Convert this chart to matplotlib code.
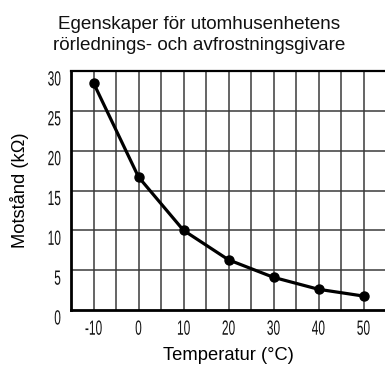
import matplotlib
matplotlib.use("Agg")
import matplotlib.pyplot as plt
from matplotlib.patheffects import AbstractPathEffect
from matplotlib.transforms import Affine2D, ScaledTranslation

plt.rcParams["axes.unicode_minus"] = False

# Sensor characteristics: resistance vs temperature
temperature = [-10, 0, 10, 20, 30, 40, 50]
resistance = [28.5, 16.7, 10.0, 6.3, 4.1, 2.6, 1.75]

x_ticks = [-10, 0, 10, 20, 30, 40, 50]
y_ticks = [0, 5, 10, 15, 20, 25, 30]

title = "Egenskaper för utomhusenhetens\nrörlednings- och avfrostningsgivare"
x_label = "Temperatur (°C)"
y_label = "Motstånd (kΩ)"

text_font = ["Liberation Sans", "DejaVu Sans"]


class Condensed(AbstractPathEffect):
    """Draw glyphs squeezed horizontally, keeping the anchor side in place."""

    def __init__(self, sx=0.6, anchor="center"):
        super().__init__()
        self.sx = sx
        self.anchor = anchor

    def draw_path(self, renderer, gc, tpath, affine, rgbFace=None):
        ext = tpath.get_extents()
        if self.anchor == "right":
            x0 = ext.x1
        else:
            x0 = 0.5 * (ext.x0 + ext.x1)
        squeeze = (Affine2D().translate(-x0, 0).scale(self.sx, 1)
                   .translate(x0, 0))
        renderer.draw_path(gc, tpath, squeeze + affine, rgbFace)


fig = plt.figure(figsize=(3.85, 3.65), dpi=100)
ax = fig.add_axes([71 / 385, 55 / 365, 315 / 385, 239 / 365])

ax.plot(temperature, resistance, color="black", lw=2.3, marker="o",
        markersize=6.5, solid_joinstyle="round", zorder=5, clip_on=False)

ax.set_xlim(-15, 55)
ax.set_ylim(0, 30)

# grid: vertical lines every 5 degrees, horizontal every 5 kOhm
for xv in range(-10, 55, 5):
    ax.axvline(xv, color="#3a3a3a", lw=1.1, zorder=1)
for yv in range(5, 30, 5):
    ax.axhline(yv, color="#3a3a3a", lw=1.1, zorder=1)

ax.set_xticks(x_ticks)
ax.set_yticks(y_ticks)
ax.tick_params(length=0, labelsize=14.8, labelcolor="#111111")
ax.tick_params(axis="x", pad=7)
ax.tick_params(axis="y", pad=7)
for lab in ax.get_xticklabels():
    lab.set_fontfamily(text_font)
    lab.set_path_effects([Condensed(0.58, "center")])
for lab in ax.get_yticklabels():
    lab.set_fontfamily(text_font)
    lab.set_path_effects([Condensed(0.58, "right")])
    lab.set_transform(lab.get_transform() +
                      ScaledTranslation(0, -0.07, fig.dpi_scale_trans))

for side in ("left", "bottom"):
    ax.spines[side].set_linewidth(2.0)
ax.spines["top"].set_linewidth(1.6)
ax.spines["right"].set_visible(False)

fig.text(0.517, 1 - 35 / 365, title, ha="center", va="center",
         fontsize=13.6, family=text_font, color="#111111", linespacing=1.32)

ax.set_xlabel(x_label, fontsize=13.2, family=text_font)
ax.xaxis.set_label_coords(0.5, (310 - 356) / 239)
ax.xaxis.label.set_va("center")
ax.set_ylabel(y_label, fontsize=13.2, family=text_font)
ax.yaxis.set_label_coords((20 - 71) / 315, 0.5)
ax.yaxis.label.set_va("center")

fig.savefig("out.png", dpi=100)
